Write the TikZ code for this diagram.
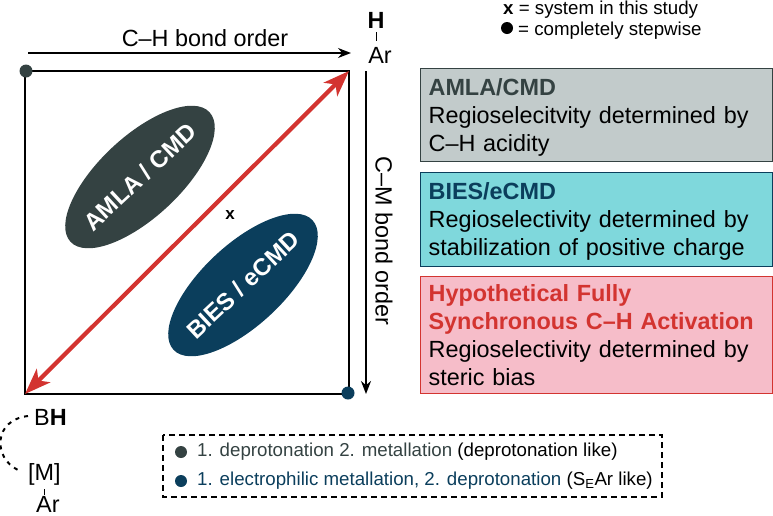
\documentclass[tikz,border=0pt]{standalone}
\usepackage{fontspec}
\setmainfont{Liberation Sans}
\usetikzlibrary{arrows.meta, positioning, shapes.geometric}
\definecolor{amlaGray}{RGB}{52,66,66}
\definecolor{biesBlue}{RGB}{11,62,92}
\definecolor{synRed}{RGB}{211,52,48}
\definecolor{amlaFill}{RGB}{194,203,203}
\definecolor{biesFill}{RGB}{127,216,220}
\definecolor{synFill}{RGB}{246,189,201}
\tikzset{
  txt/.style={font=\fontsize{23.4}{28}\selectfont, inner sep=0pt},
  small/.style={font=\fontsize{18.7}{22}\selectfont, inner sep=0pt},
  infobox/.style={draw=#1, line width=1.2pt, anchor=north west, align=left,
                  font=\fontsize{23.4}{28}\selectfont, inner xsep=8pt, inner ysep=0pt,
                  text width=336pt},
  blob/.style={ellipse, fill=#1, text=white, rotate=43, minimum width=190pt,
               minimum height=81pt, inner sep=0pt,
               font=\bfseries\fontsize{24}{28}\selectfont},
  flow/.style={-{Stealth[length=13pt, width=10pt]}, line width=1.5pt},
  corner/.style={circle, fill=#1, minimum size=13pt, inner sep=0pt},
  sync/.style={{Stealth[length=26pt, width=19pt, inset=7pt]}-{Stealth[length=26pt, width=19pt, inset=7pt]},
               synRed, line width=4.2pt},
}
\begin{document}
\begin{tikzpicture}[x=1pt, y=-1pt]
  \useasboundingbox (0,0) rectangle (773,515);
  % frame of the map
  \coordinate (tl) at (25,71);
  \coordinate (tr) at (349,71);
  \coordinate (br) at (349,394);
  \coordinate (bl) at (25,394);
  \draw[line width=1.5pt] (tl) -- (tr) -- (br) -- (bl) -- cycle;
  \node[corner=amlaGray] (stepA) at (26,71) {};
  \node[corner=biesBlue] (stepB) at (348,393) {};
  % axes
  \coordinate (xs) at (28,53);
  \coordinate (xe) at (351,53);
  \draw[flow] (xs) -- (xe);
  \node[txt] (xlabel) at (205,38) {C–H bond order};
  \coordinate (ys) at (366,71);
  \coordinate (ye) at (366,394);
  \draw[flow] (ys) -- (ye);
  \node[txt, rotate=-90] (ylabel) at (384,241) {C–M bond order};
  % arene corner
  \node[txt, font=\bfseries\fontsize{23.4}{28}\selectfont] (hatom) at (376,20) {H};
  \node[txt] (artop) at (380,55) {Ar};
  \draw[line width=1pt] (376,32) -- (376,41);
  % blobs
  \node[blob=amlaGray] (amla) at (140,177) {\makebox[0pt]{AMLA / CMD}};
  \node[blob=biesBlue] (bies) at (243,285) {\makebox[0pt]{BIES / eCMD}};
  % synchronous diagonal
  \draw[sync] (bl) -- (tr);
  \node[font=\bfseries\fontsize{17}{20}\selectfont, inner sep=0pt] (sys) at (230,215) {x};
  % key, top right
  \node[small, anchor=base west] (keyx) at (503,14) {\textbf{x} = system in this study};
  \node[circle, fill=black, minimum size=12pt, inner sep=0pt] (keydot) at (507,28) {};
  \node[small, anchor=base west] (keystep) at (518,35) {= completely stepwise};
  % mechanism boxes
  \node[infobox=amlaGray, fill=amlaFill, minimum height=93pt] (boxA) at (420,68)
    {\rule{0pt}{21pt}\textcolor{amlaGray}{\textbf{AMLA/CMD}}\\Regioselecitvity determined by\\C–H acidity};
  \node[infobox=biesBlue, fill=biesFill, minimum height=94pt] (boxB) at (420,172)
    {\rule{0pt}{20pt}\textcolor{biesBlue}{\textbf{BIES/eCMD}}\\Regioselectivity determined by\\stabilization of positive charge};
  \node[infobox=synRed, fill=synFill, minimum height=117pt] (boxC) at (420,276)
    {\textcolor{synRed}{\textbf{Hypothetical Fully}}\\\textcolor{synRed}{\textbf{Synchronous C–H Activation}}\\Regioselectivity determined by\\steric bias};
  % tethered catalyst
  \node[txt, anchor=west] (base) at (34,417) {B\textbf{H}};
  \node[txt, anchor=west] (metal) at (28,474) {[M]};
  \node[txt, anchor=west] (arbot) at (36,504) {Ar};
  \draw[line width=1pt] (44,489) -- (44,495);
  \coordinate (tethA) at (28,416);
  \coordinate (tethB) at (18,470);
  \draw[line width=2pt, dash pattern=on 4pt off 5pt]
    (tethA) .. controls (-7,420) and (-7,458) .. (tethB);
  % legend
  \draw[line width=1.2pt, dash pattern=on 6pt off 4pt] (163,435) rectangle (662,497);
  \node[corner=amlaGray, minimum size=12pt] (dotA) at (181,452) {};
  \node[corner=biesBlue, minimum size=12pt] (dotB) at (181,481) {};
  \node[small, anchor=west] (legA) at (197,452)
    {\textcolor{amlaGray}{1. deprotonation 2. metallation} (deprotonation like)};
  \node[small, anchor=west] (legB) at (197,481)
    {\textcolor{biesBlue}{1. electrophilic metallation, 2. deprotonation} (S\textsubscript{E}Ar like)};
\end{tikzpicture}
\end{document}
